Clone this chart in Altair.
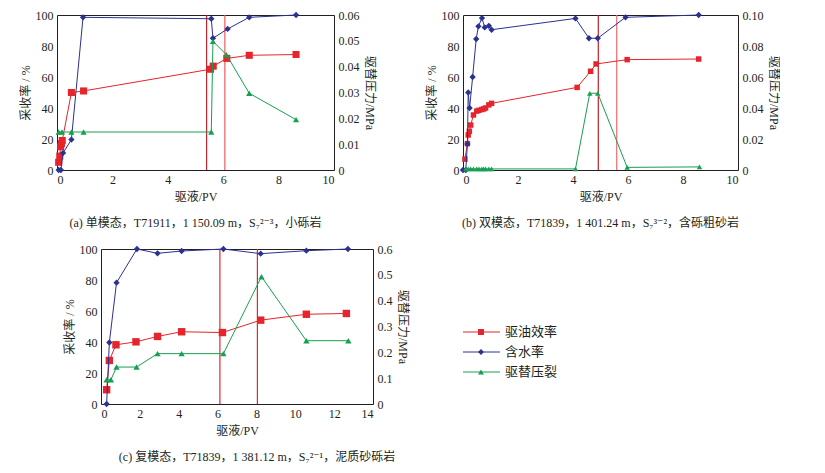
import altair as alt
import pandas as pd

# ---------------- data ----------------
# Panel (a)
a_oil_x = [0.06, 0.10, 0.13, 0.16, 0.19, 0.52, 0.96, 5.54, 5.64, 6.13, 6.94, 8.63]
a_oil_y = [5, 9, 15, 17, 19, 50, 51, 65, 67, 72, 74, 74.5]
a_wc_x = [0.06, 0.14, 0.22, 0.52, 0.94, 5.57, 5.63, 6.16, 6.94, 8.63]
a_wc_y = [0, 0, 11, 19.6, 98.5, 97.6, 85, 91, 98.5, 100]
a_p_x = [0.06, 0.18, 0.52, 0.96, 5.57, 5.63, 6.12, 6.94, 8.63]
a_p_y = [0.0147, 0.0147, 0.0147, 0.0147, 0.0147, 0.0498, 0.0446, 0.0297, 0.0195]
a_vlines = [5.40, 6.06]

# Panel (b)
b_oil_x = [0.07, 0.16, 0.19, 0.23, 0.28, 0.38, 0.50, 0.58, 0.68, 0.75, 0.82, 0.94, 1.04,
           4.15, 4.64, 4.84, 5.97, 8.57]
b_oil_y = [7, 17, 22.6, 25, 29, 35.5, 38, 38.5, 39, 39.4, 40, 42, 43,
           53.3, 63.7, 68.4, 71.2, 71.6]
b_wc_x = [0, 0.10, 0.16, 0.19, 0.24, 0.35, 0.48, 0.56, 0.69, 0.79, 0.94, 1.04,
          4.09, 4.58, 4.90, 5.91, 8.57]
b_wc_y = [0, 0, 16.8, 50, 40, 60, 84.5, 92.7, 98, 92, 93, 90.5,
          97.8, 85, 85, 98.5, 100]
b_p_x = [0.10, 0.19, 0.28, 0.38, 0.50, 0.58, 0.68, 0.75, 0.82, 0.94, 1.04,
         4.09, 4.61, 4.90, 5.97, 8.60]
b_p_y = [0.0007, 0.0007, 0.0007, 0.0007, 0.0007, 0.0007, 0.0007, 0.0007, 0.0007, 0.0007, 0.0007,
         0.0007, 0.0495, 0.0495, 0.0017, 0.0020]
b_vlines = [4.92, 5.59]

# Panel (c)
c_oil_x = [0.29, 0.43, 0.77, 1.80, 2.91, 4.15, 6.25, 8.22, 10.57, 12.63]
c_oil_y = [9.2, 28.1, 38.2, 40.1, 43.6, 46.6, 46.1, 54.1, 57.9, 58.4]
c_wc_x = [0.29, 0.43, 0.80, 1.85, 2.91, 4.15, 6.30, 8.22, 10.57, 12.71]
c_wc_y = [0, 39.7, 78.3, 100, 97.2, 98.7, 100, 97, 98.9, 100]
c_p_x = [0.29, 0.51, 0.80, 1.83, 2.91, 4.15, 6.30, 8.26, 10.57, 12.73]
c_p_y = [0.094, 0.094, 0.143, 0.143, 0.195, 0.195, 0.195, 0.493, 0.245, 0.245]
c_vlines = [6.12, 8.05]

series_names = ["驱油效率", "含水率", "驱替压裂"]
series_order = [0, 1, 2]
series_colors = ["#e5242b", "#2b3190", "#16a050"]
series_shapes = ["square", "diamond", "triangle-up"]

captions = [
    "(a) 单模态，T71911，1 150.09 m，S₇²⁻³，小砾岩",
    "(b) 双模态，T71839，1 401.24 m，S₇³⁻²，含砾粗砂岩",
    "(c) 复模态，T71839，1 381.12 m，S₇²⁻¹，泥质砂砾岩",
]

FONT = "Liberation Serif, DejaVu Serif, Noto Sans CJK SC"
TXT = "#231f20"


def fmt_expr(dec):
    return f"datum.value == 0 ? '0' : format(datum.value, '.{dec}f')"


def panel(oil_x, oil_y, wc_x, wc_y, p_x, p_y, vlines, vcolors, xmax, pmax, pstep, pdec,
          caption, w, h, sizes, cap_dx=0):
    d_oil = pd.DataFrame({"x": oil_x, "y": oil_y})
    d_wc = pd.DataFrame({"x": wc_x, "y": wc_y})
    d_p = pd.DataFrame({"x": p_x, "y": p_y})
    d_v = pd.DataFrame({"x": vlines, "c": vcolors})

    X = alt.X("x:Q", scale=alt.Scale(domain=[0, xmax], nice=False),
              axis=alt.Axis(values=list(range(0, xmax + 1, 2)), title="驱液/PV", format="d",
                            labelOverlap=False, titlePadding=6))
    YL = alt.Y("y:Q", scale=alt.Scale(domain=[0, 100], nice=False),
               axis=alt.Axis(values=[0, 20, 40, 60, 80, 100], title="采收率 / %",
                             labelOverlap=False))
    nt = int(round(pmax / pstep))
    pvals = [round(i * pstep, 4) for i in range(nt + 1)]
    YR = alt.Y("y:Q", scale=alt.Scale(domain=[0, pmax], nice=False),
               axis=alt.Axis(orient="right", values=pvals, labelExpr=fmt_expr(pdec),
                             title="驱替压力/MPa", labelOverlap=False))

    vl = alt.Chart(d_v).mark_rule(strokeWidth=1.2).encode(
        x=X, color=alt.Color("c:N", scale=None))
    oil_l = alt.Chart(d_oil).mark_line(color=series_colors[0], strokeWidth=1).encode(x=X, y=YL)
    oil_p = alt.Chart(d_oil).mark_point(shape="square", filled=True, opacity=1,
                                        color=series_colors[0], size=sizes[0]).encode(x=X, y=YL)
    wc_l = alt.Chart(d_wc).mark_line(color=series_colors[1], strokeWidth=1).encode(x=X, y=YL)
    wc_p = alt.Chart(d_wc).mark_point(shape="diamond", filled=True, opacity=1,
                                      color=series_colors[1], size=sizes[1]).encode(x=X, y=YL)
    p_l = alt.Chart(d_p).mark_line(color=series_colors[2], strokeWidth=1).encode(x=X, y=YR)
    p_p = alt.Chart(d_p).mark_point(shape="triangle-up", filled=True, opacity=1,
                                    color=series_colors[2], size=sizes[2]).encode(x=X, y=YR)

    left = alt.layer(vl, oil_l, oil_p, wc_l, wc_p)
    right = alt.layer(p_l, p_p)
    return alt.layer(left, right).resolve_scale(y="independent").properties(
        width=w, height=h,
        title=alt.TitleParams(caption, orient="bottom", anchor="middle", fontSize=12,
                              font=FONT, fontWeight="normal", color=TXT, offset=16, dx=cap_dx),
    )


pa = panel(a_oil_x, a_oil_y, a_wc_x, a_wc_y, a_p_x, a_p_y, a_vlines, ["#c0272d", "#ee5a5a"],
           10, 0.06, 0.01, 2, captions[0], 277, 155, [50, 40, 38])
pb = panel(b_oil_x, b_oil_y, b_wc_x, b_wc_y, b_p_x, b_p_y, b_vlines, ["#b8232a", "#f26b6b"],
           10, 0.10, 0.02, 2, captions[1], 275, 155, [30, 40, 30])
pc = panel(c_oil_x, c_oil_y, c_wc_x, c_wc_y, c_p_x, c_p_y, c_vlines, ["#e0282e", "#e0282e"],
           14, 0.6, 0.1, 1, captions[2], 272, 155, [55, 40, 40], cap_dx=20)

# legend
d_leg = pd.DataFrame({"name": series_names, "k": series_order})
LY = alt.Y("k:Q", scale=alt.Scale(domain=[0, 2], range=[83, 123]), axis=None)
LC = alt.Color("name:N", scale=alt.Scale(domain=series_names, range=series_colors), legend=None)
leg_rule = alt.Chart(d_leg).mark_rule(strokeWidth=1).encode(
    x=alt.value(0), x2=alt.value(37), y=LY, color=LC)
leg_pt = alt.Chart(d_leg).mark_point(filled=True, opacity=1, size=36).encode(
    x=alt.value(18), y=LY, color=LC,
    shape=alt.Shape("name:N", scale=alt.Scale(domain=series_names, range=series_shapes), legend=None))
leg_txt = alt.Chart(d_leg).mark_text(align="left", baseline="middle", fontSize=13, font=FONT,
                                     color=TXT).encode(x=alt.value(42), y=LY, text="name:N")
legend = alt.layer(leg_rule, leg_pt, leg_txt).properties(
    width=100, height=155, view=alt.ViewBackground(strokeOpacity=0))

spacer = alt.Chart(pd.DataFrame({"s": [0]})).mark_point(opacity=0).encode(
    x=alt.value(0), y=alt.value(0)).properties(width=5, height=1,
                                               view=alt.ViewBackground(strokeOpacity=0))

top = alt.hconcat(pa, pb, spacing=48)
bottom = alt.hconcat(alt.hconcat(spacer, pc, spacing=0), legend, spacing=53)

chart = alt.vconcat(top, bottom, spacing=12).properties(
    padding={"left": 10, "top": 0, "right": 0, "bottom": 0}
).configure_view(stroke="#231f20", strokeWidth=1).configure_axis(
    grid=False, ticks=False, labelPadding=4, domain=False,
    labelFont=FONT, labelFontSize=12, labelColor=TXT,
    titleFont=FONT, titleFontSize=12, titleFontWeight="normal", titleColor=TXT,
    titlePadding=3,
).configure_concat(spacing=20)

chart.save("out.html", embed_options={"renderer": "svg", "actions": False})
